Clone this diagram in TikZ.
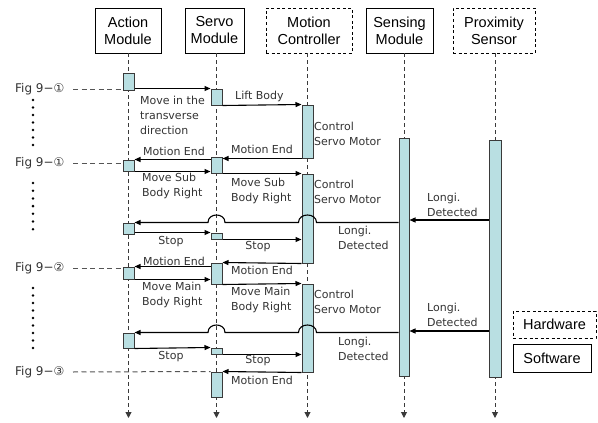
\documentclass[tikz,border=0pt]{standalone}
\usepackage{fontspec}
\setmainfont{Liberation Sans}
\newfontfamily\msgfont{DejaVu Sans}
\usetikzlibrary{arrows.meta,calc}
\definecolor{actfill}{HTML}{B9DFE2}
\definecolor{actline}{HTML}{3A3A3A}
\definecolor{txtgray}{HTML}{333333}
\definecolor{dashgray}{HTML}{555555}
\begin{document}
\begin{tikzpicture}[x=1pt,y=-1pt,
 hdr/.style={draw=black,line width=1pt,inner sep=0pt,align=center,font=\fontsize{14.5}{17}\selectfont},
 hdrdash/.style={hdr,dash pattern=on 3pt off 2.5pt},
 life/.style={draw=actline,line width=1pt,dash pattern=on 4pt off 3pt,-{Triangle[length=6pt,width=6pt]}},
 act/.style={draw=actline,fill=actfill,line width=1pt,inner sep=0pt,minimum width=11pt},
 msg/.style={draw=black,line width=1.1pt,-{Triangle[length=6pt,width=5pt]}},
 hopline/.style={draw=black,line width=1.1pt,-{Triangle[length=6pt,width=5pt]}},
 lbl/.style={inner sep=0pt,align=left,text=txtgray,font=\msgfont\fontsize{11}{15}\selectfont},
 figlbl/.style={inner sep=0pt,text=txtgray,font=\msgfont\fontsize{12}{15}\selectfont},
 figline/.style={draw=dashgray,line width=1pt,dash pattern=on 5pt off 3.5pt},
 dotmark/.style={fill=black},
]
\useasboundingbox (0,0) rectangle (598,423);

% headers
\node[hdr,minimum width=66pt,minimum height=45pt] (hA) at (128,30.5) {Action\\Module};
\node[hdr,minimum width=59pt,minimum height=45pt] (hS) at (214.5,30.5) {Servo\\Module};
\node[hdrdash,minimum width=86pt,minimum height=45pt] (hM) at (309,30.5) {Motion\\Controller};
\node[hdr,minimum width=67pt,minimum height=45pt] (hE) at (399.5,30.5) {Sensing\\Module};
\node[hdrdash,minimum width=82pt,minimum height=45pt] (hP) at (494,30.5) {Proximity\\Sensor};

% lifelines
\coordinate (LA) at (128.5,53); \coordinate (LAe) at (128.5,418);
\coordinate (LS) at (216.5,53); \coordinate (LSe) at (216.5,418);
\coordinate (LM) at (307.5,53); \coordinate (LMe) at (307.5,418);
\coordinate (LE) at (404,53);   \coordinate (LEe) at (404,418);
\coordinate (LP) at (495,53);   \coordinate (LPe) at (495,418);
\draw[life] (LA) -- (LAe);
\draw[life] (LS) -- (LSe);
\draw[life] (LM) -- (LMe);
\draw[life] (LE) -- (LEe);
\draw[life] (LP) -- (LPe);

% activation boxes
\node[act,minimum height=17pt] (a1) at (128.5,81.5) {};
\node[act,minimum height=11pt] (a2) at (128.5,165.5) {};
\node[act,minimum height=11pt] (a3) at (128.5,228.5) {};
\node[act,minimum height=12pt] (a4) at (128.5,273) {};
\node[act,minimum height=15pt] (a5) at (128.5,340.5) {};

\node[act,minimum height=16pt] (s1) at (216.5,97) {};
\node[act,minimum height=16pt] (s2) at (216.5,165) {};
\node[act,minimum height=6pt] (s3) at (216.5,236) {};
\node[act,minimum height=21pt] (s4) at (216.5,273.5) {};
\node[act,minimum height=6pt] (s5) at (216.5,351) {};
\node[act,minimum height=25pt] (s6) at (216.5,384.5) {};

\node[act,minimum height=53pt] (m1) at (307.5,131.5) {};
\node[act,minimum height=89pt] (m2) at (307.5,218.5) {};
\node[act,minimum height=88pt] (m3) at (307.5,328) {};

\node[act,minimum width=10pt,minimum height=238pt] (se) at (404,257) {};
\node[act,minimum width=12pt,minimum height=237pt] (px) at (495,258.5) {};

% messages
\draw[msg] (a1.east |- s1.north) -- (s1.north west);
\draw[msg] (s1.south east) -- (m1.north west);
\draw[msg] (m1.south west) -- (s2.east |- m1.south west);
\draw[msg] (s2.west |- a2.north) -- (a2.north east);
\draw[msg] (a2.south east) -- (s2.west |- a2.south east);
\draw[msg] (s2.east |- m2.north) -- (m2.north west);

\coordinate (p1) at (489,220);
\draw[msg] (p1) -- (se.east |- p1);
\draw[hopline] (se.west |- a3.north)
  -- ($(LM |- a3.north)+(9,0)$) .. controls +(0,-10) and +(0,-10) .. ($(LM |- a3.north)+(-9,0)$)
  -- ($(LS |- a3.north)+(8.5,0)$) .. controls +(0,-10) and +(0,-10) .. ($(LS |- a3.north)+(-8.5,0)$)
  -- (a3.north east);
\draw[msg] (a3.east |- s3.north) -- (s3.north west);
\draw[msg] (s3.south east) -- (m2.west |- s3.south east);
\draw[msg] (m2.south west) -- (s4.north east);
\draw[msg] (s4.west |- a4.north) -- (a4.north east);
\draw[msg] (a4.south east) -- (s4.west |- a4.south east);
\draw[msg] (s4.south east) -- (m3.north west);

\coordinate (p2) at (489,331);
\draw[msg] (p2) -- (se.east |- p2);
\draw[hopline] (se.west |- a5.north)
  -- ($(LM |- a5.north)+(9,0)$) .. controls +(0,-10) and +(0,-10) .. ($(LM |- a5.north)+(-9,0)$)
  -- ($(LS |- a5.north)+(8.5,0)$) .. controls +(0,-10) and +(0,-10) .. ($(LS |- a5.north)+(-8.5,0)$)
  -- (a5.north east);
\draw[msg] (a5.south east) -- (s5.north west);
\draw[msg] (s5.south east) -- (m3.west |- s5.south east);
\draw[msg] (m3.south west) -- (s6.north east);

% labels
\node[lbl,anchor=west] (t1) at (140,115) {Move in the\\transverse\\direction};
\node[lbl,anchor=west] (t2) at (235,96) {Lift Body};
\node[lbl,anchor=west] (t3) at (314,133.5) {Control\\Servo Motor};
\node[lbl,anchor=west] (t4) at (231,149) {Motion End};
\node[lbl,anchor=west] (t5) at (143,151) {Motion End};
\node[lbl,anchor=west] (t6) at (142,185.5) {Move Sub\\Body Right};
\node[lbl,anchor=west] (t7) at (231,190.5) {Move Sub\\Body Right};
\node[lbl,anchor=west] (t8) at (314,192) {Control\\Servo Motor};
\node[lbl,anchor=west] (t9) at (427,205) {Longi.\\Detected};
\node[lbl,anchor=west] (t10) at (338,237.5) {Longi.\\Detected};
\node[lbl] (t11) at (171,242) {Stop};
\node[lbl] (t12) at (258,247) {Stop};
\node[lbl,anchor=west] (t13) at (231,270) {Motion End};
\node[lbl,anchor=west] (t14) at (143,261) {Motion End};
\node[lbl,anchor=west] (t15) at (142,294.5) {Move Main\\Body Right};
\node[lbl,anchor=west] (t16) at (231,300) {Move Main\\Body Right};
\node[lbl,anchor=west] (t17) at (314,302) {Control\\Servo Motor};
\node[lbl,anchor=west] (t18) at (427,315) {Longi.\\Detected};
\node[lbl,anchor=west] (t19) at (338,348.5) {Longi.\\Detected};
\node[lbl] (t20) at (171,357) {Stop};
\node[lbl] (t21) at (258,361) {Stop};
\node[lbl,anchor=west] (t22) at (231,380) {Motion End};

% figure references
\node[figlbl,anchor=west] (f1) at (15,89) {Fig 9−①};
\node[figlbl,anchor=west] (f2) at (15,163) {Fig 9−①};
\node[figlbl,anchor=west] (f3) at (15,268) {Fig 9−②};
\node[figlbl,anchor=west] (f4) at (15,372) {Fig 9−③};
\coordinate (g1) at (73,89);
\coordinate (g2) at (73,163);
\coordinate (g3) at (73,268);
\coordinate (g4) at (73,372);
\draw[figline] (g1) -- (a1.west |- g1);
\draw[figline] (g2) -- (a2.west |- g2);
\draw[figline] (g3) -- (a4.west |- g3);
\draw[figline] (g4) -- (s6.north west);

% dots
\foreach \yy in {100,107.5,...,146} \fill[dotmark] (33,\yy) circle[radius=1.4pt];
\foreach \yy in {183,190.7,...,230} \fill[dotmark] (33,\yy) circle[radius=1.4pt];
\foreach \yy in {288,295.5,...,349} \fill[dotmark] (33,\yy) circle[radius=1.4pt];

% legend
\node[hdrdash,minimum width=83pt,minimum height=27pt] (lh) at (554.5,324.5) {Hardware};
\node[hdr,minimum width=78pt,minimum height=28pt] (ls) at (552,358) {Software};
\end{tikzpicture}
\end{document}
